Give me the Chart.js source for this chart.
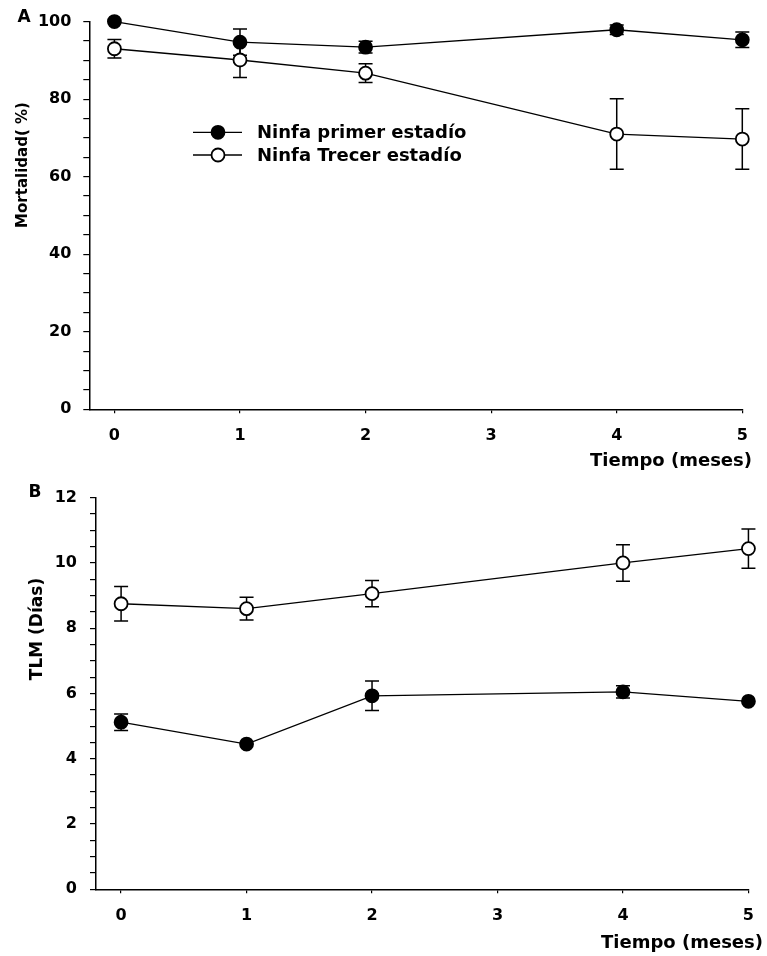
<!DOCTYPE html>
<html>
<head>
<meta charset="utf-8">
<script src="https://cdn.jsdelivr.net/npm/chart.js@4.4.0/dist/chart.umd.min.js"></script>
<style>
  body { margin: 0; background: #fff; }
  canvas { position: absolute; left: 0; }
</style>
</head>
<body>
<canvas id="chartA" width="767" height="475" style="top:0"></canvas>
<canvas id="chartB" width="767" height="481" style="top:475px"></canvas>
<script>
// datos
var meses = [0, 1, 2, 4, 5];
var nombres = ["Ninfa primer estadío", "Ninfa Trecer estadío"];

// A - mortalidad (%)
var mortPrimer = [100, 94.7, 93.4, 97.9, 95.3];
var mortPrimerErr = [0, 3.4, 1.5, 1.2, 2.0];
var mortTercer = [93.0, 90.1, 86.7, 71.0, 69.7];
var mortTercerErr = [2.4, 4.5, 2.4, 9.1, 7.8];

// B - TLM (dias)
var tlmPrimer = [5.12, 4.45, 5.93, 6.05, 5.76];
var tlmPrimerErr = [0.25, 0, 0.45, 0.19, 0];
var tlmTercer = [8.75, 8.60, 9.06, 10.0, 10.44];
var tlmTercerErr = [0.53, 0.35, 0.40, 0.56, 0.6];

var tituloX = "Tiempo (meses)";

Chart.defaults.font.family = "'DejaVu Sans', sans-serif";
Chart.defaults.font.weight = 'bold';
Chart.defaults.color = '#000';

function serie(label, valores, errores, relleno) {
  return {
    label: label,
    data: meses.map(function (m, i) { return { x: m, y: valores[i] }; }),
    errores: errores,
    borderColor: '#000',
    borderWidth: 1.3,
    pointRadius: 6.5,
    pointBackgroundColor: relleno,
    pointBorderColor: '#000',
    pointBorderWidth: 1.8,
    tension: 0,
    clip: false
  };
}

// barras de error, antes de los puntos
var barrasError = {
  id: 'barrasError',
  beforeDatasetsDraw: function (chart) {
    var ctx = chart.ctx, sx = chart.scales.x, sy = chart.scales.y;
    ctx.save();
    ctx.strokeStyle = '#000';
    ctx.lineWidth = 1.5;
    chart.data.datasets.forEach(function (ds) {
      ds.data.forEach(function (p, i) {
        var e = ds.errores[i];
        if (!e) return;
        var x = sx.getPixelForValue(p.x);
        var y1 = sy.getPixelForValue(p.y + e), y2 = sy.getPixelForValue(p.y - e);
        ctx.beginPath();
        ctx.moveTo(x, y1); ctx.lineTo(x, y2);
        ctx.moveTo(x - 7, y1); ctx.lineTo(x + 7, y1);
        ctx.moveTo(x - 7, y2); ctx.lineTo(x + 7, y2);
        ctx.stroke();
      });
    });
    ctx.restore();
  }
};

// letras del panel, titulos de ejes y leyenda
var textos = {
  id: 'textos',
  afterDraw: function (chart, args, o) {
    var ctx = chart.ctx;
    ctx.save();
    ctx.fillStyle = '#000';
    ctx.textBaseline = 'middle';
    ctx.font = "bold 17px 'DejaVu Sans'";
    ctx.textAlign = 'center';
    ctx.fillText(o.letra, o.letraX, o.letraY);

    ctx.font = "bold 18px 'DejaVu Sans'";
    ctx.textAlign = 'right';
    ctx.fillText(tituloX, o.xTitRight, o.xTitY);

    ctx.save();
    ctx.translate(o.yTitX, o.yTitY);
    ctx.rotate(-Math.PI / 2);
    ctx.textAlign = 'center';
    ctx.font = "bold " + o.yTitSize + "px 'DejaVu Sans'";
    ctx.fillText(o.yTitulo, 0, 0);
    ctx.restore();

    if (o.leyenda) {
      chart.data.datasets.forEach(function (ds, i) {
        var y = o.leyenda.y[i];
        ctx.strokeStyle = '#000';
        ctx.lineWidth = 1.3;
        ctx.beginPath();
        ctx.moveTo(o.leyenda.x0, y); ctx.lineTo(o.leyenda.x1, y);
        ctx.stroke();
        ctx.beginPath();
        ctx.arc(o.leyenda.xm, y, 6.5, 0, 2 * Math.PI);
        ctx.fillStyle = ds.pointBackgroundColor;
        ctx.fill();
        ctx.lineWidth = 1.8;
        ctx.stroke();
        ctx.fillStyle = '#000';
        ctx.font = "bold 18px 'DejaVu Sans'";
        ctx.textAlign = 'left';
        ctx.fillText(ds.label, o.leyenda.xt, y + 1);
      });
    }
    ctx.restore();
  }
};

function hacerGrafico(id, datasets, p) {
  return new Chart(document.getElementById(id), {
    type: 'line',
    data: { datasets: datasets },
    options: {
      responsive: false,
      animation: false,
      layout: { padding: p.padding },
      plugins: { legend: { display: false }, tooltip: { enabled: false }, textos: p.textos },
      scales: {
        x: {
          type: 'linear', min: -0.2, max: 5,
          afterFit: function (s) { s.height = 40; },
          border: { color: '#000', width: 1.5 },
          grid: { drawOnChartArea: false, color: '#000', tickLength: 4, lineWidth: 1.2 },
          ticks: { stepSize: 1, includeBounds: false, padding: p.xPad, autoSkip: false, font: { size: 16 } }
        },
        y: {
          min: 0, max: p.yMax,
          afterFit: function (s) { s.width = p.yWidth; },
          border: { color: '#000', width: 1.5 },
          grid: { drawOnChartArea: false, color: '#000', tickLength: 6, lineWidth: 1.2 },
          ticks: {
            stepSize: p.yMinor, includeBounds: false, padding: p.yPad, autoSkip: false, font: { size: 16 },
            callback: function (v) { return Math.abs(v / p.yMajor - Math.round(v / p.yMajor)) < 1e-6 ? v : ''; }
          }
        }
      }
    },
    plugins: [barrasError, textos]
  });
}

hacerGrafico('chartA', [
  serie(nombres[0], mortPrimer, mortPrimerErr, '#000'),
  serie(nombres[1], mortTercer, mortTercerErr, '#fff')
], {
  padding: { top: 21, right: 24.7, bottom: 25.7, left: 0 },
  yWidth: 89.3, yMax: 100, yMinor: 5, yMajor: 20, yPad: 12, xPad: 13,
  textos: {
    letra: 'A', letraX: 24, letraY: 18,
    yTitulo: 'Mortalidad( %)', yTitX: 23, yTitY: 165, yTitSize: 15,
    xTitRight: 752, xTitY: 461,
    leyenda: { x0: 193, x1: 242, xm: 218, xt: 257, y: [132.3, 155] }
  }
});

hacerGrafico('chartB', [
  serie(nombres[0], tlmPrimer, tlmPrimerErr, '#000'),
  serie(nombres[1], tlmTercer, tlmTercerErr, '#fff')
], {
  padding: { top: 22.7, right: 12.7, bottom: 26.7, left: 0 },
  yWidth: 96, yMax: 12, yMinor: 0.5, yMajor: 2, yPad: 13, xPad: 13,
  textos: {
    letra: 'B', letraX: 35, letraY: 18,
    yTitulo: 'TLM (Días)', yTitX: 38, yTitY: 154, yTitSize: 17,
    xTitRight: 763, xTitY: 468,
    leyenda: null
  }
});
</script>
</body>
</html>
